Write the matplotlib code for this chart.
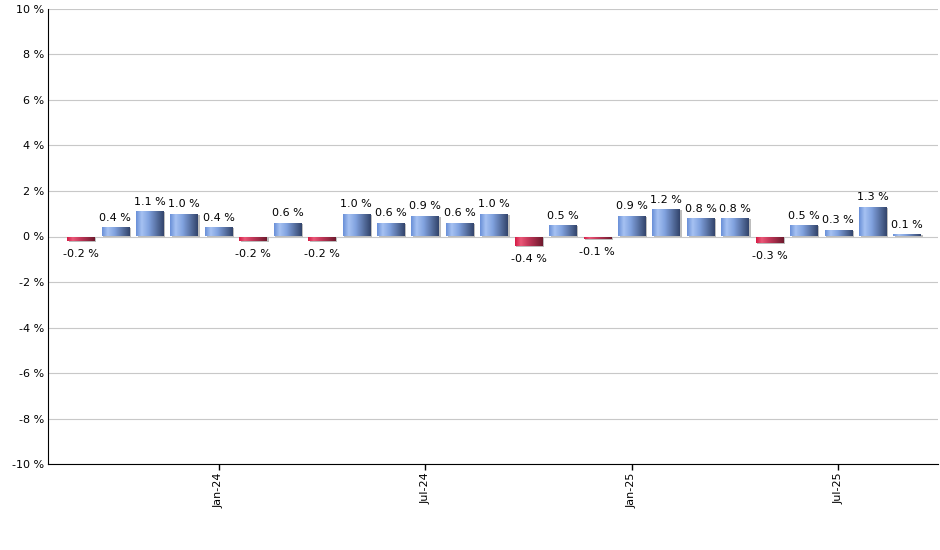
import numpy as np
import matplotlib.pyplot as plt
from matplotlib.colors import LinearSegmentedColormap
from matplotlib.patches import Rectangle

# monthly change, Sep-23 .. Sep-25
months = ["Sep-23", "Oct-23", "Nov-23", "Dec-23", "Jan-24", "Feb-24", "Mar-24",
          "Apr-24", "May-24", "Jun-24", "Jul-24", "Aug-24", "Sep-24", "Oct-24",
          "Nov-24", "Dec-24", "Jan-25", "Feb-25", "Mar-25", "Apr-25", "May-25",
          "Jun-25", "Jul-25", "Aug-25", "Sep-25"]
values = [-0.2, 0.4, 1.1, 1.0, 0.4, -0.2, 0.6, -0.2, 1.0, 0.6, 0.9, 0.6, 1.0,
          -0.4, 0.5, -0.1, 0.9, 1.2, 0.8, 0.8, -0.3, 0.5, 0.3, 1.3, 0.1]
tick_months = ["Jan-24", "Jul-24", "Jan-25", "Jul-25"]
y_ticks = [-10, -8, -6, -4, -2, 0, 2, 4, 6, 8, 10]

blue_cmap = LinearSegmentedColormap.from_list(
    "blue", [(0, "#6a90d8"), (0.2, "#a6c2f2"), (0.45, "#82a3e0"), (1, "#33456c")])
red_cmap = LinearSegmentedColormap.from_list(
    "red", [(0, "#d41c46"), (0.2, "#ea5878"), (0.45, "#c83a5c"), (1, "#6e1a2e")])

fig = plt.figure(figsize=(9.4, 5.5), dpi=100)
ax = fig.add_axes([0.051, 0.156, 0.947, 0.828])

x = np.arange(len(values))
w = 0.8
grad = np.linspace(0, 1, 64).reshape(1, -1)

for xi, v in zip(x, values):
    bottom, top = min(0, v), max(0, v)
    # small drop shadow
    ax.add_patch(Rectangle((xi - w / 2 + 0.05, bottom - 0.04), w, top - bottom,
                           facecolor="#bdbdbd", edgecolor="none", zorder=2))
    bar = ax.bar(xi, v, width=w, color="none", edgecolor="none", zorder=3)[0]
    im = ax.imshow(grad, cmap=blue_cmap if v >= 0 else red_cmap, aspect="auto",
                   extent=(xi - w / 2, xi + w / 2, bottom, top), zorder=3)
    im.set_clip_path(bar)
    if v >= 0:
        ax.text(xi, top + 0.2, f"{v:.1f} %", ha="center", va="bottom", fontsize=8)
    else:
        ax.text(xi, bottom - 0.35, f"{v:.1f} %", ha="center", va="top", fontsize=8)

ax.set_xlim(-0.96, len(values) - 0.1)
ax.set_ylim(-10, 10)
ax.set_yticks(y_ticks)
ax.set_yticklabels([f"{t} %" for t in y_ticks], fontsize=8)
ax.set_xticks([months.index(m) for m in tick_months])
ax.set_xticklabels(tick_months, rotation=90, fontsize=8)
ax.grid(axis="y", color="#c8c8c8", linewidth=0.8, zorder=0)
ax.set_axisbelow(True)
for s in ["top", "right"]:
    ax.spines[s].set_visible(False)
ax.tick_params(axis="x", length=4, width=1, pad=2)
ax.tick_params(axis="y", length=0, pad=3)

fig.savefig("out.png", dpi=100)
